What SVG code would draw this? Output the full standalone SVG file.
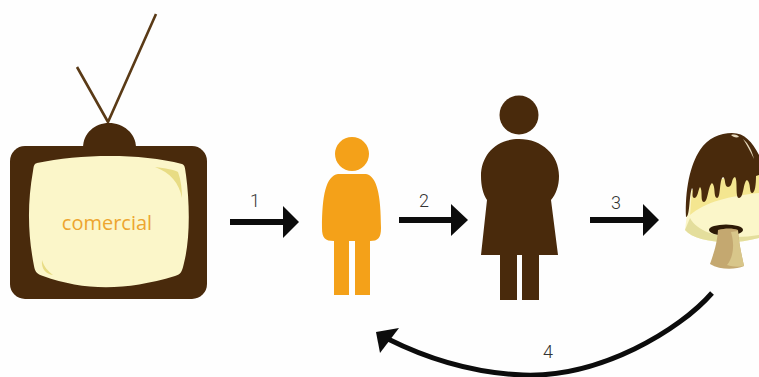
<svg xmlns="http://www.w3.org/2000/svg" width="759" height="377" viewBox="0 0 759 377">
<style>
.br{fill:#492a0c}
.or{fill:#f4a119}
.lb{font-family:Roboto,"Liberation Sans",sans-serif;font-weight:300;font-size:18px;fill:#333}
.ar{fill:none;stroke:#0c0c0c}
.hd{fill:#0c0c0c}
.hl{fill:#e8dc84}
</style>
<rect width="759" height="377" fill="#fefefe"/>
<g id="tv">
<path d="M77 67L108 122L156 14" fill="none" stroke="#5a3a16" stroke-width="2.6"/>
<path class="br" d="M83 148C83 133 95 123 109 123C123 123 136 133 136 148Z"/>
<rect class="br" x="10" y="146" width="197" height="153" rx="15"/>
<path d="M37 163C80 154 140 153 182 164C185 165 185 168 186 175C190 205 190 240 184 263C182 272 181 274 175 276C125 291 85 291 43 276C37 274 35 272 34 266C28 235 27 205 33 171C34 165 34 164 37 163Z" fill="#fbf6c9"/>
<path class="hl" d="M155 167C165 168 175 170 178 172C181 180 182 190 182 198C179 183 171 173 155 167Z"/>
<path class="hl" d="M42 260C44 267 48 271 53 275C46 274 41 269 42 260Z"/>
<text x="107" y="230" text-anchor="middle" font-family="'Open Sans','Liberation Sans',sans-serif" font-size="20" fill="#eda52f">comercial</text>
</g>
<g id="child">
<circle class="or" cx="352" cy="154" r="17"/>
<path class="or" d="M338 174H366C377 176 381 195 381 228C381 238 378 241 370 241V295H355V241H349V295H334V241C325 241 322 238 322 228C322 195 326 176 338 174Z"/>
</g>
<g id="adult">
<circle class="br" cx="519" cy="115" r="19.5"/>
<path class="br" d="M519 139C542 139 559 155 559 176C559 186 556 194 551 200L558 255H539V300H522V255H517V300H500V255H481L487 200C483 194 481 186 481 176C481 155 496 139 519 139Z"/>
</g>
<g id="mushroom">
<path d="M685 230C695 242 730 246 759 238V180L690 190Z" fill="#fbf6c9"/>
<path d="M685 230C695 242 730 246 759 238V235C730 240 700 236 690 218Z" fill="#e4de9c"/>
<path d="M690 215L692 190L759 165V193C730 196 705 202 690 215Z" fill="#f4e690"/>
<ellipse cx="726" cy="230" rx="17" ry="5.5" fill="#2d1a06"/>
<path d="M718 230C725 228 733 228 738 230C739 245 742 256 744 266C735 270 720 270 710 264C713 255 717 245 718 230Z" fill="#c4a870"/>
<path d="M731 232L738 231C739 245 742 256 744 266C739 267 733 267 727 265C733 258 735 245 731 232Z" fill="#d8c68a"/>
<path class="br" d="M686 217C685 190 690 165 700 150C708 138 720 133 732 133C745 133 752 142 759 155V175L756 176C756 185 755 193 752 193C749 193 751 182 747 180C743 182 744 198 739 198C735 198 738 180 735 177C731 178 733 187 728 187C724 187 726 178 723 177C719 180 721 198 717 198C713 197 716 186 712 183C708 186 708 202 704 202C700 202 703 190 700 187C698 190 698 198 694 198C691 197 694 190 692 188C689 195 690 217 686 217Z"/>
<path d="M731 135C735 134 738 135 739 137C736 138 733 137 731 135ZM743 139C749 144 752 151 754 159C750 151 747 145 743 139Z" fill="#e6d9bd"/>
</g>
<g id="connectors">
<path class="ar" stroke-width="6" d="M230 222H285"/><path class="hd" d="M283 206L299 222L283 238Z"/>
<path class="ar" stroke-width="6" d="M399 220H452"/><path class="hd" d="M451 204L468 220L451 236Z"/>
<path class="ar" stroke-width="6" d="M590 220H644"/><path class="hd" d="M643 204L659 220L643 236Z"/>
<path class="ar" stroke-width="5" d="M712 293C680 330 600 378 523 375C475 373 430 360 388 339"/><path class="hd" d="M376 332L399 328L380 353Z"/>
</g>
<g id="labels">
<text class="lb" x="255" y="207" text-anchor="middle">1</text>
<text class="lb" x="424" y="207" text-anchor="middle">2</text>
<text class="lb" x="616" y="209" text-anchor="middle">3</text>
<text class="lb" x="548" y="358" text-anchor="middle">4</text>
</g>
</svg>
